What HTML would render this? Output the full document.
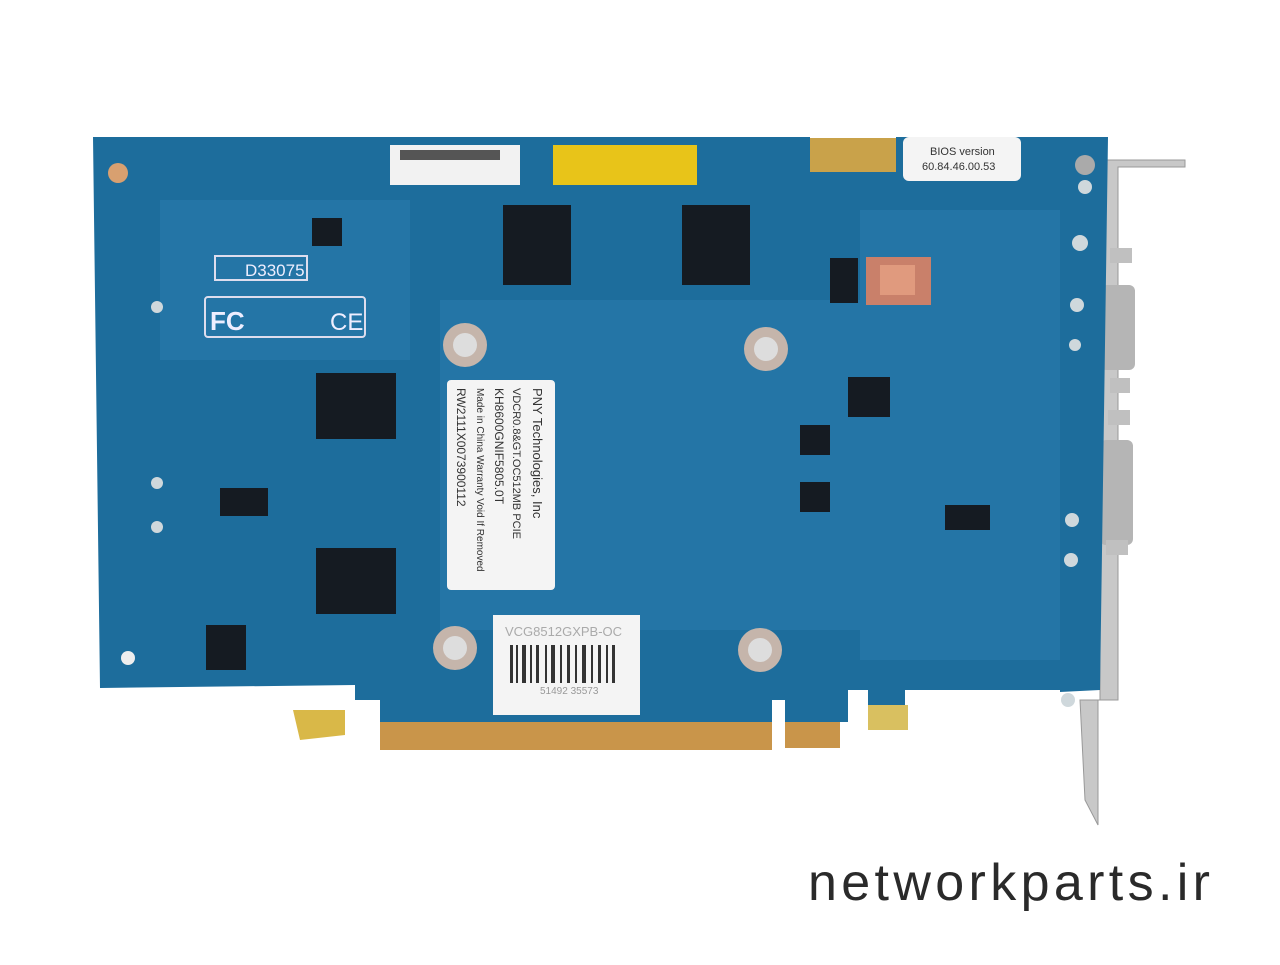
<!DOCTYPE html>
<html><head><meta charset="utf-8"><style>
body{margin:0;background:#fff;width:1280px;height:960px;overflow:hidden;font-family:"Liberation Sans",sans-serif}
</style></head><body>
<svg width="1280" height="960" viewBox="0 0 1280 960" xmlns="http://www.w3.org/2000/svg">
<rect width="1280" height="960" fill="#fff"/>
<!-- bracket -->
<polygon points="1110,160 1185,160 1185,167 1118,167 1118,700 1098,700 1098,825 1085,800 1080,700 1100,700 1100,200 1070,160" fill="#c8c8c8" stroke="#999" stroke-width="1"/>
<rect x="1100" y="285" width="35" height="85" rx="6" fill="#b5b5b5"/>
<rect x="1100" y="440" width="33" height="105" rx="6" fill="#b5b5b5"/>
<rect x="1110" y="248" width="22" height="15" fill="#c0c0c0"/>
<rect x="1110" y="378" width="20" height="15" fill="#c0c0c0"/>
<rect x="1108" y="410" width="22" height="15" fill="#c0c0c0"/>
<rect x="1106" y="540" width="22" height="15" fill="#c0c0c0"/>
<!-- gold fingers -->
<rect x="810" y="138" width="86" height="35" fill="#c9a24a"/>
<polygon points="293,710 345,710 345,735 300,740" fill="#d9b848"/>
<rect x="380" y="722" width="392" height="28" fill="#c9954a"/>
<rect x="785" y="722" width="55" height="26" fill="#c9954a"/>
<rect x="868" y="705" width="40" height="25" fill="#d9c060"/>
<!-- PCB -->
<polygon points="93,137 810,137 810,172 896,172 896,137 1108,137 1100,690 1060,692 1060,690 905,690 905,705 868,705 868,690 848,690 848,722 840,722 785,722 785,700 772,700 772,722 380,722 380,700 355,700 355,685 100,688" fill="#1d6d9c"/>
<g fill="#2f83b6" opacity="0.4">
<rect x="440" y="300" width="420" height="330"/>
<rect x="160" y="200" width="250" height="160"/>
<rect x="860" y="210" width="200" height="450"/>
</g>
<circle cx="118" cy="173" r="10" fill="#d8a070"/>
<circle cx="128" cy="658" r="7" fill="#eee"/>
<!-- chips -->
<g fill="#151b22">
<rect x="503" y="205" width="68" height="80"/>
<rect x="682" y="205" width="68" height="80"/>
<rect x="316" y="373" width="80" height="66"/>
<rect x="316" y="548" width="80" height="66"/>
<rect x="312" y="218" width="30" height="28"/>
<rect x="206" y="625" width="40" height="45"/>
<rect x="220" y="488" width="48" height="28"/>
<rect x="945" y="505" width="45" height="25"/>
<rect x="800" y="425" width="30" height="30"/>
<rect x="800" y="482" width="30" height="30"/>
<rect x="848" y="377" width="42" height="40"/>
<rect x="830" y="258" width="28" height="45"/>
</g>
<rect x="866" y="257" width="65" height="48" fill="#c9806a"/>
<rect x="880" y="265" width="35" height="30" fill="#e09a7e"/>
<!-- screws -->
<g>
<circle cx="465" cy="345" r="22" fill="#c5b5ab"/><circle cx="465" cy="345" r="12" fill="#ddd"/>
<circle cx="766" cy="349" r="22" fill="#c5b5ab"/><circle cx="766" cy="349" r="12" fill="#ddd"/>
<circle cx="455" cy="648" r="22" fill="#c5b5ab"/><circle cx="455" cy="648" r="12" fill="#ddd"/>
<circle cx="760" cy="650" r="22" fill="#c5b5ab"/><circle cx="760" cy="650" r="12" fill="#ddd"/>
<circle cx="1085" cy="165" r="10" fill="#aaa"/>
</g>
<!-- white markings -->
<rect x="205" y="297" width="160" height="40" rx="3" fill="none" stroke="#dde" stroke-width="2"/>
<text x="210" y="330" font-size="26" font-weight="bold" fill="#eef">FC</text>
<text x="330" y="330" font-size="24" fill="#eef">CE</text>
<rect x="215" y="256" width="92" height="24" fill="none" stroke="#dde" stroke-width="2"/>
<text x="245" y="276" font-size="17" fill="#eef">D33075</text>
<!-- labels -->
<rect x="390" y="145" width="130" height="40" fill="#f2f2f2"/>
<rect x="400" y="150" width="100" height="10" fill="#555"/>
<rect x="553" y="145" width="144" height="40" fill="#e8c419"/>
<rect x="903" y="137" width="118" height="44" rx="6" fill="#f4f4f4"/>
<text x="930" y="155" font-size="11" fill="#333">BIOS version</text>
<text x="922" y="170" font-size="11" fill="#333">60.84.46.00.53</text>
<g transform="translate(555,380) rotate(90)">
<rect x="0" y="0" width="210" height="108" rx="4" fill="#f4f4f4"/>
<text x="8" y="22" font-size="13" fill="#333">PNY Technologies, Inc</text>
<text x="8" y="42" font-size="11" fill="#333">VDCR0.8&amp;GT.OC512MB PCIE</text>
<text x="8" y="60" font-size="12" fill="#333">KH8600GNIF5805.0T</text>
<text x="8" y="78" font-size="10" fill="#333">Made in China Warranty Void If Removed</text>
<text x="8" y="98" font-size="12" fill="#333">RW2111X0073900112</text>
</g>
<rect x="493" y="615" width="147" height="100" fill="#f4f4f4"/>
<text x="505" y="636" font-size="13" fill="#aaa">VCG8512GXPB-OC</text>
<g fill="#333"><rect x="510" y="645" width="3" height="38"/><rect x="516" y="645" width="2" height="38"/><rect x="522" y="645" width="4" height="38"/><rect x="530" y="645" width="2" height="38"/><rect x="536" y="645" width="3" height="38"/><rect x="545" y="645" width="2" height="38"/><rect x="551" y="645" width="4" height="38"/><rect x="560" y="645" width="2" height="38"/><rect x="567" y="645" width="3" height="38"/><rect x="575" y="645" width="2" height="38"/><rect x="582" y="645" width="4" height="38"/><rect x="591" y="645" width="2" height="38"/><rect x="598" y="645" width="3" height="38"/><rect x="606" y="645" width="2" height="38"/><rect x="612" y="645" width="3" height="38"/></g>
<text x="540" y="694" font-size="10" fill="#999">51492 35573</text>
<!-- dots on right -->
<g fill="#cfd8dc">
<circle cx="1085" cy="187" r="7"/><circle cx="1080" cy="243" r="8"/><circle cx="1077" cy="305" r="7"/><circle cx="1075" cy="345" r="6"/><circle cx="1072" cy="520" r="7"/><circle cx="1071" cy="560" r="7"/><circle cx="1068" cy="700" r="7"/>
<circle cx="157" cy="307" r="6"/><circle cx="157" cy="483" r="6"/><circle cx="157" cy="527" r="6"/>
</g>
<text x="808" y="900" font-size="52" fill="#2a2a2a" textLength="402" lengthAdjust="spacing">networkparts.ir</text>
</svg>
</body></html>
